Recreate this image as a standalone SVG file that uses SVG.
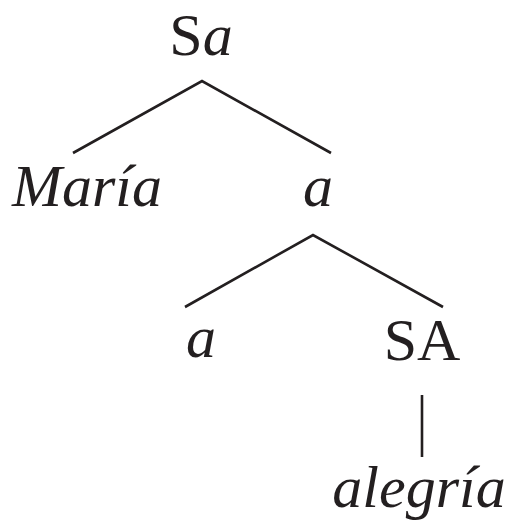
<svg xmlns="http://www.w3.org/2000/svg" width="508" height="525" viewBox="0 0 508 525">
<style>
.t{font-size:60px;fill:#231f20;text-anchor:middle}
.i{font-style:italic}
.e{stroke:#231f20;stroke-width:2.6;fill:none}
</style>
<rect width="508" height="525" fill="#fff"/>
<g id="connectors">
<path class="e" d="M73,153 L202,81 L331,153"/>
<path class="e" d="M185,307 L313,235 L443,307"/>
<path class="e" d="M422,395 L422,457"/>
</g>
<g font-family="Liberation Serif, Times New Roman, DejaVu Serif, serif">
<g id="n-Sa"><text class="t" x="201" y="55">S<tspan class="i">a</tspan></text></g>
<g id="n-Maria"><text class="t i" x="87" y="206">María</text></g>
<g id="n-a1"><text class="t i" x="318" y="206">a</text></g>
<g id="n-a2"><text class="t i" x="201" y="357">a</text></g>
<g id="n-SA"><text class="t" x="422" y="360">SA</text></g>
<g id="n-alegria"><text class="t i" x="419" y="507">alegría</text></g>
</g>
</svg>
